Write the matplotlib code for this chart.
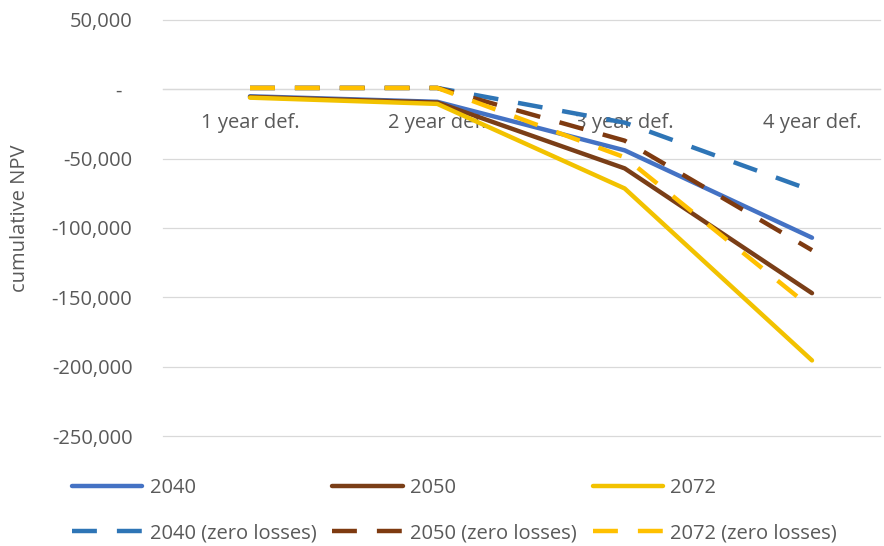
import matplotlib
matplotlib.use('Agg')
import matplotlib.pyplot as plt
from matplotlib.ticker import FuncFormatter

# data
categories = ['1 year def.', '2 year def.', '3 year def.', '4 year def.']
npv_2040 = [-5000, -9000, -44000, -107000]
npv_2050 = [-5500, -9500, -57000, -147000]
npv_2072 = [-6000, -10500, -71500, -195500]
npv_2040_zero = [1000, 1000, -24000, -73000]
npv_2050_zero = [1000, 1000, -37000, -116000]
npv_2072_zero = [1000, 1000, -49000, -158000]
y_ticks = [50000, 0, -50000, -100000, -150000, -200000, -250000]

text_color = '#595959'
font = 'Open Sans'
fs = 14.5

plt.rcParams['font.family'] = [font, 'DejaVu Sans']

fig = plt.figure(figsize=(8.84, 5.46), dpi=100)
ax = fig.add_axes([163 / 884, 1 - 436 / 546, (880 - 163) / 884, (436 - 20) / 546])

x = list(range(len(categories)))
dash = (0, (5.6, 4.5))
lw = 3.2

series = [
    (npv_2040, '2040', '#4472C4', '-'),
    (npv_2050, '2050', '#7A3E17', '-'),
    (npv_2072, '2072', '#F2C200', '-'),
    (npv_2040_zero, '2040 (zero losses)', '#2E75B6', dash),
    (npv_2050_zero, '2050 (zero losses)', '#7E3A10', dash),
    (npv_2072_zero, '2072 (zero losses)', '#FFC000', dash),
]
handles = {}
for vals, name, col, ls in series:
    h, = ax.plot(x, vals, color=col, linestyle=ls, linewidth=lw, zorder=3,
                 solid_capstyle='round', dash_capstyle='butt', label=name)
    handles[name] = h

ax.set_xlim(-87 / 187.33, 3 + 68 / 187.33)
ax.set_ylim(-250000, 50000)
ax.set_yticks(y_ticks)


def fmt(v, pos):
    if v == 0:
        return '-  '
    return f'{v:,.0f}'


ax.yaxis.set_major_formatter(FuncFormatter(fmt))
ax.set_xticks(x)
ax.set_xticklabels(categories)

ax.grid(axis='y', color='#D9D9D9', linewidth=0.9, zorder=1)
for gl in ax.get_ygridlines():
    gl.set_clip_on(False)
ax.set_axisbelow(True)
for s in ['top', 'right', 'left']:
    ax.spines[s].set_visible(False)
ax.spines['bottom'].set_position(('data', 0))
ax.spines['bottom'].set_color('#D9D9D9')
ax.spines['bottom'].set_linewidth(0.9)

ax.tick_params(axis='y', length=0, pad=22, labelsize=fs, labelcolor=text_color)
ax.tick_params(axis='x', length=0, pad=17, labelsize=fs, labelcolor=text_color)

fig.text(20 / 884, 1 - 218 / 546, 'cumulative NPV', rotation=90, ha='center',
         va='center', fontsize=fs, color=text_color)

order = ['2040', '2040 (zero losses)', '2050', '2050 (zero losses)',
         '2072', '2072 (zero losses)']
leg = fig.legend([handles[k] for k in order], order, ncol=3, frameon=False,
                 loc='center left', bbox_to_anchor=(72 / 884, 1 - 510.5 / 546),
                 borderpad=0, borderaxespad=0, handlelength=3.5,
                 handletextpad=0.35, columnspacing=0.8, labelspacing=1.25,
                 fontsize=fs)
for t in leg.get_texts():
    t.set_color(text_color)

fig.savefig('out.png', dpi=100)
